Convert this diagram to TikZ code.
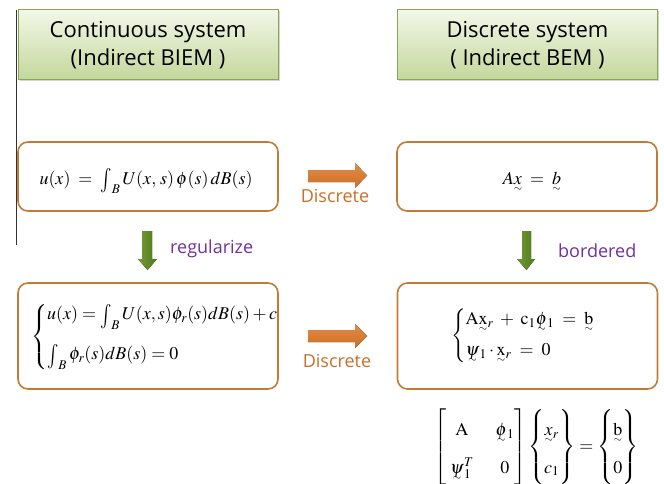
\documentclass[tikz,border=0pt]{standalone}
\usepackage{amsmath}
\usepackage{graphicx}
\usepackage{mathptmx}
\usepackage{fontspec}
\setmainfont{Liberation Serif}
\setsansfont{Open Sans}
\usetikzlibrary{shadows}
\definecolor{hdrborder}{RGB}{135,168,78}
\definecolor{hdrtop}{RGB}{242,247,232}
\definecolor{hdrbot}{RGB}{196,215,155}
\definecolor{boxorange}{RGB}{196,122,52}
\definecolor{arrorange}{RGB}{205,110,38}
\definecolor{arrorangelt}{RGB}{225,140,70}
\definecolor{txtorange}{RGB}{200,112,42}
\definecolor{txtpurple}{RGB}{112,48,160}
\definecolor{arrgreen}{RGB}{80,120,30}
\definecolor{arrgreenlt}{RGB}{115,155,55}
\newcommand{\ut}[1]{\mathord{\mbox{\ooalign{$#1$\cr\hidewidth\smash{\raisebox{-0.4em}{$\scriptscriptstyle\sim$}}\hidewidth\cr}}}}
\newcommand{\bint}{\mathop{\raisebox{-3pt}{\scalebox{1.05}[1.35]{$\int$}}}\nolimits}
\begin{document}
\begin{tikzpicture}[x=1pt,y=-1pt,
  hdr/.style={draw=hdrborder, line width=1pt, top color=hdrtop, bottom color=hdrbot,
    minimum width=260pt, minimum height=70pt, inner sep=0pt, align=center,
    drop shadow={opacity=0.35, shadow xshift=1.5pt, shadow yshift=-1.5pt},
    font=\sffamily\fontsize{22}{28}\selectfont},
  eqbox/.style={draw=boxorange, line width=1.6pt, rounded corners=10pt,
    minimum width=260pt, inner sep=0pt},
  eq/.style={font=\fontsize{18}{21}\selectfont, inner sep=0pt},
  discr/.style={font=\sffamily\fontsize{18}{22}\selectfont, text=txtorange, inner sep=0pt},
  reg/.style={font=\sffamily\fontsize{18}{22}\selectfont, text=txtpurple, inner sep=0pt},
  oarrow/.style={top color=arrorangelt, bottom color=arrorange, draw=none},
  garrow/.style={left color=arrgreenlt, right color=arrgreen, draw=none},
]
\useasboundingbox (0,0) rectangle (664,484);
% left vertical rule
\coordinate (vtop) at (16,10);
\coordinate (vbot) at (16,245);
\draw[line width=1pt, black!80] (vtop) -- (vbot);

% headers
\node[hdr] (hleft) at (148,45) {Continuous system\\(Indirect BIEM )};
\node[hdr] (hright) at (527.5,45) {Discrete system\\( Indirect BEM )};

% first row boxes
\node[eqbox, minimum height=69pt] (b1) at (148,176.5) {};
\node[eq, anchor=base] (e1) at (146,184) {$u(x)\;=\;\bint_{B}U(x,\,s)\,\phi(s)\,dB(s)$};
\node[eqbox, minimum height=69pt] (b2) at (527,176.5) {};
\node[eq] (e2) at (532,178) {$A\ut{x}\;=\;\ut{b}$};

% second row boxes
\node[eqbox, minimum height=106pt] (b3) at (148,336) {};
\node[eq, anchor=west] (e3) at (31,337) {$\left\{\begin{array}{@{}l@{}}
  u(x)=\bint_{B}U(x,s)\phi_{r}(s)dB(s)+c\\[18pt]
  \bint_{B}\phi_{r}(s)dB(s)=0
  \end{array}\right.$};
\node[eqbox, minimum height=106pt] (b4) at (527.5,336) {};
\node[eq, anchor=west] (e4) at (451,336) {$\left\{\begin{array}{@{}l@{}}
  \rule[-8pt]{0pt}{12pt}\mathrm{A}\ut{\mathrm{x}}_{r}\;+\;\mathrm{c}_{1}\ut{\phi}_{1}\;=\;\ut{\mathrm{b}}\\[10pt]
  \rule{0pt}{14pt}\ut{\psi}_{1}\cdot\ut{\mathrm{x}}_{r}\;=\;0
  \end{array}\right.$};

% orange arrows
\fill[oarrow] (308,170) -- (355,170) -- (355,163) -- (367,175.5) -- (355,188) -- (355,182) -- (308,182) -- cycle;
\node[discr, anchor=base] (d1) at (335,202) {Discrete};
\fill[oarrow] (308,330) -- (355,330) -- (355,324) -- (367,336) -- (355,348) -- (355,342) -- (308,342) -- cycle;
\node[discr, anchor=base] (d2) at (337,367) {Discrete};

% green arrows
\fill[garrow] (142,231) -- (152,231) -- (152,259) -- (157,259) -- (147.5,270) -- (138,259) -- (142,259) -- cycle;
\node[reg, anchor=base west] (r1) at (170,253) {regularize};
\fill[garrow] (522,231) -- (531,231) -- (531,259) -- (535,259) -- (526.5,270) -- (517,259) -- (522,259) -- cycle;
\node[reg, anchor=base west] (r2) at (558,257) {bordered};

% bordered matrix system
\node[font=\fontsize{18}{22}\selectfont, inner sep=0pt, anchor=north west] (m) at (434,409) {$\renewcommand{\arraystretch}{1.7}
  \left[\begin{array}{@{\;}c@{\quad\;}c@{}} \mathrm{A} & \ut{\phi}_{1}\\ \ut{\psi}_{1}^{T} & 0\end{array}\right]
  \left\{\begin{array}{@{}c@{}} \ut{x}_{r}\\ c_{1}\end{array}\right\}
  =\left\{\begin{array}{@{}c@{}} \ut{\mathrm{b}}\\ 0\end{array}\right\}$};
\end{tikzpicture}
\end{document}
